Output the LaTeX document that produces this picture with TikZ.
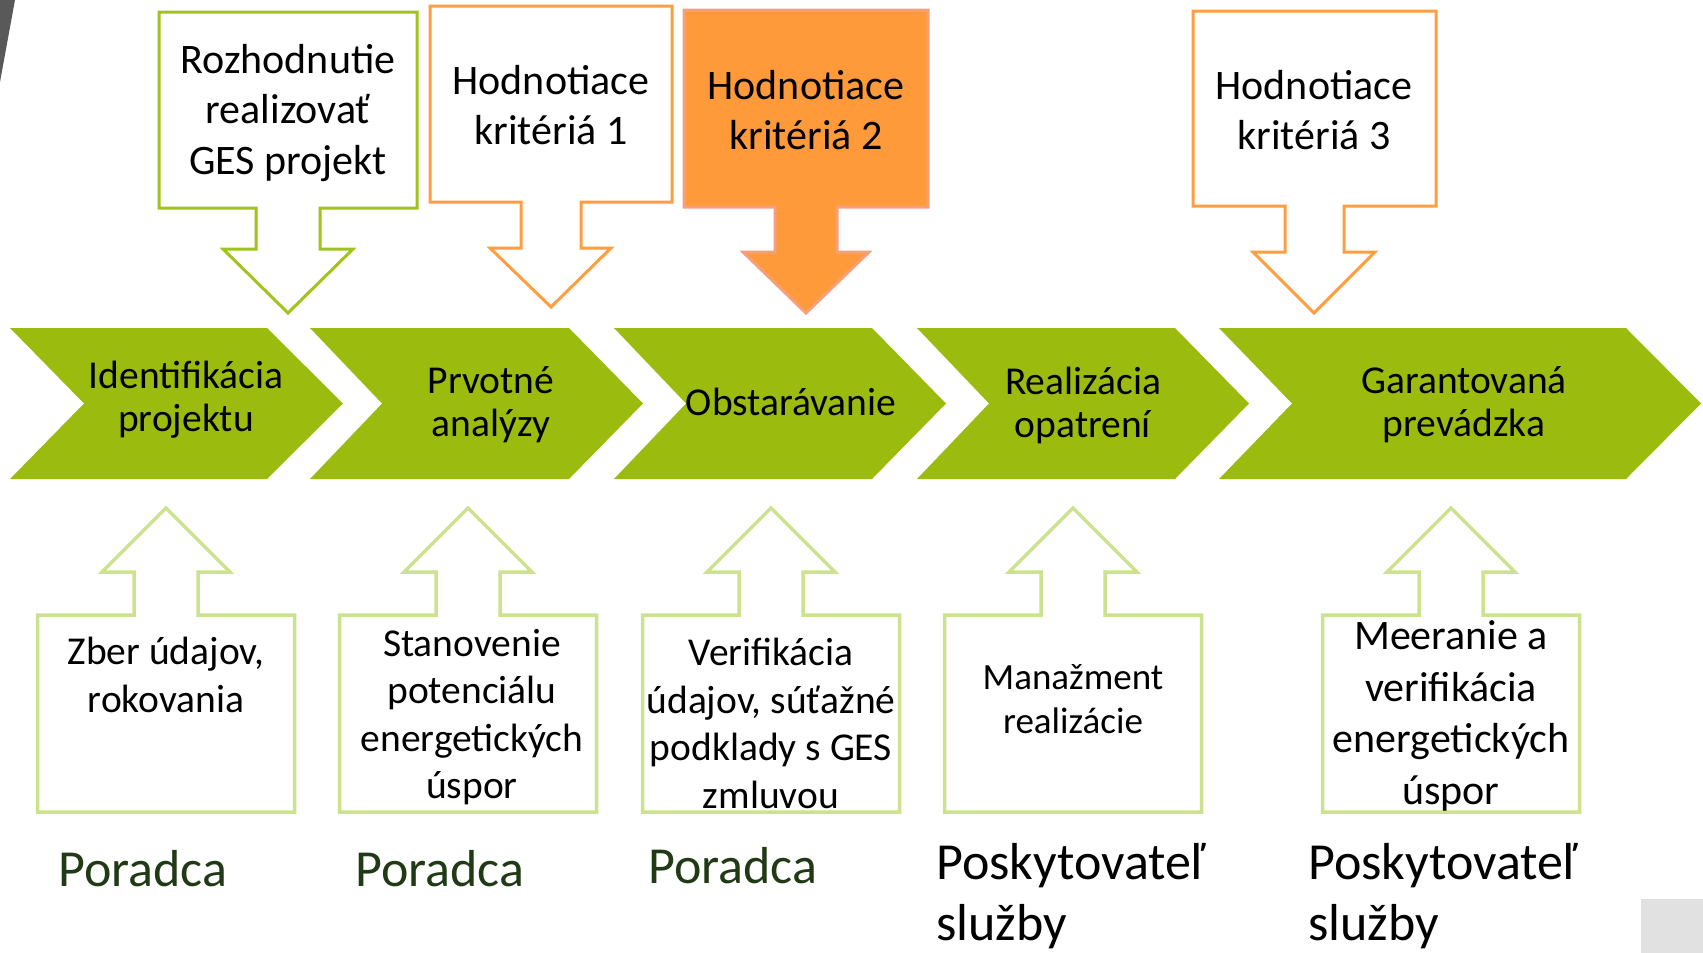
\documentclass[tikz,border=0pt]{standalone}
\usepackage{fontspec}
\setmainfont{Carlito}
\definecolor{chevgreen}{HTML}{9BBB0F}
\definecolor{topgreen}{HTML}{9FC41A}
\definecolor{lightgreen}{HTML}{CBE28E}
\definecolor{orangeline}{HTML}{FF9E40}
\definecolor{orangefill}{HTML}{FF9A3A}
\definecolor{salmon}{HTML}{F5A07A}
\definecolor{darkgray}{HTML}{595959}
\definecolor{lightgray}{HTML}{E1E1E1}
\definecolor{roleGreen}{HTML}{1F3A14}
\tikzset{
  chev/.style={fill=chevgreen, draw=none},
  chevtext/.style={align=center, font=\fontsize{39.5}{43}\selectfont},
  topout/.style={draw=topgreen, line width=3pt, fill=white},
  orout/.style={draw=orangeline, line width=3pt, fill=white},
  orfill/.style={draw=salmon, line width=3pt, fill=orangefill},
  botout/.style={draw=lightgreen, line width=3.5pt, fill=white},
  toptext/.style={align=center, font=\fontsize{42}{50.5}\selectfont},
  bottext/.style={align=center, font=\fontsize{39.5}{47.5}\selectfont},
  role/.style={anchor=west, align=left, inner sep=0pt, font=\fontsize{52}{61}\selectfont},
}
\begin{document}
\begin{tikzpicture}[x=1pt,y=-1pt]
\useasboundingbox (0,0) rectangle (1703,953);
% decorations
\fill[darkgray] (0,0) -- (15,0) -- (0,82) -- cycle;
\fill[lightgray] (1641,899) rectangle (1703,953);

% chevrons
\foreach \n/\a/\b/\c/\d in {c1/10/84/267/343, c2/310/382/569/643, c3/614/686/872/946, c4/917/989/1175/1249, c5/1219/1292/1626/1701}{
  \fill[chev] (\a,328) -- (\c,328) -- (\d,403.5) -- (\c,479) -- (\a,479) -- (\b,403.5) -- cycle;
}
\node[chevtext] (t1) at (186,400) {Identifikácia\\projektu};
\node[chevtext] (t2) at (491,405) {Prvotné\\analýzy};
\node[chevtext] (t3) at (791,402) {Obstarávanie};
\node[chevtext] (t4) at (1083,405) {Realizácia\\opatrení};
\node[chevtext] (t5) at (1464,405) {Garantovaná\\prevádzka};

% top callouts
\draw[topout] (159,12) -- (417,12) -- (417,208) -- (320,208) -- (320,249) -- (353,249) -- (288,313) -- (223,249) -- (256,249) -- (256,208) -- (159,208) -- cycle;
\node[toptext] (k0) at (288,113) {Rozhodnutie\\realizovať\\GES projekt};

\draw[orout] (430,6) -- (672,6) -- (672,202) -- (581,202) -- (581,248) -- (611,248) -- (551,307) -- (490,248) -- (521,248) -- (521,202) -- (430,202) -- cycle;
\node[toptext] (k1) at (551,105) {Hodnotiace\\kritériá 1};

\draw[orfill] (684,10) -- (928,10) -- (928,207) -- (837,207) -- (837,252) -- (869,252) -- (806,313) -- (743,252) -- (775,252) -- (775,207) -- (684,207) -- cycle;
\node[toptext] (k2) at (806,110) {Hodnotiace\\kritériá 2};

\draw[orout] (1193,11) -- (1436,11) -- (1436,206) -- (1344,206) -- (1344,252) -- (1375,252) -- (1314,313) -- (1253,252) -- (1285,252) -- (1285,206) -- (1193,206) -- cycle;
\node[toptext] (k3) at (1314,110) {Hodnotiace\\kritériá 3};

% bottom callouts
\foreach \x in {166,468,771,1073,1451}{
  \draw[botout] (\x-128.5,812) -- (\x+128.5,812) -- (\x+128.5,615) -- (\x+32,615) -- (\x+32,572) -- (\x+64,572) -- (\x,508) -- (\x-64,572) -- (\x-32,572) -- (\x-32,615) -- (\x-128.5,615) -- cycle;
}
\node[bottext] (b1) at (166,675) {Zber údajov,\\rokovania};
\node[bottext] (b2) at (472,717) {Stanovenie\\potenciálu\\energetických\\úspor};
\node[bottext] (b3) at (771,723.5) {Verifikácia\\údajov, súťažné\\podklady s GES\\zmluvou};
\node[align=center, font=\fontsize{37}{44.5}\selectfont] (b4) at (1073,699) {Manažment\\realizácie};
\node[align=center, font=\fontsize{42}{51.5}\selectfont] (b5) at (1451,716) {Meeranie a\\verifikácia\\energetických\\úspor};

% roles
\node[role, text=roleGreen] (r1) at (58,869) {Poradca};
\node[role, text=roleGreen] (r2) at (355,869) {Poradca};
\node[role, text=roleGreen] (r3) at (648,866) {Poradca};
\node[role] (r4) at (936,896) {Poskytovateľ\\služby};
\node[role] (r5) at (1308,896) {Poskytovateľ\\služby};
\end{tikzpicture}
\end{document}
